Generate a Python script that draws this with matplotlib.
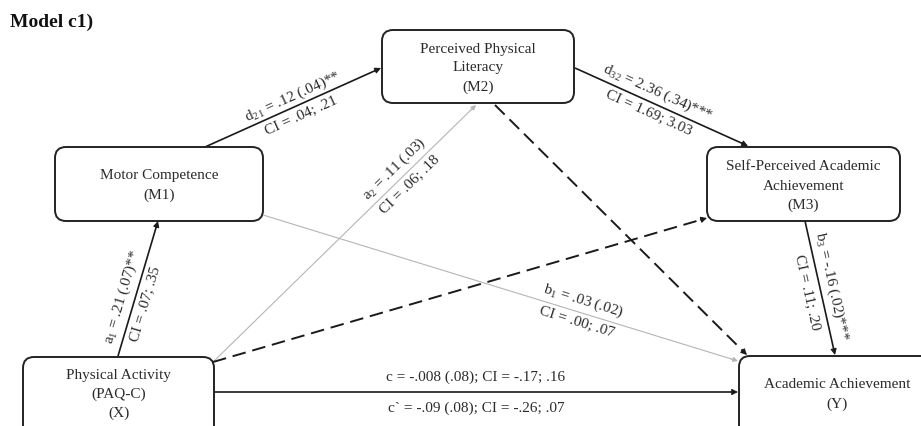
import numpy as np
import matplotlib
matplotlib.use("Agg")
import matplotlib.pyplot as plt
from matplotlib.patches import FancyBboxPatch

plt.rcParams['font.family'] = ['Liberation Serif', 'DejaVu Serif']
plt.rcParams['mathtext.fontset'] = 'custom'
plt.rcParams['mathtext.rm'] = 'Liberation Serif'
plt.rcParams['mathtext.it'] = 'Liberation Serif:italic'

TXT = '#2b2b2b'

# boxes: (x0, y0, x1, y1) in pixel space, text lines, first text line y
box_names = ['X', 'M1', 'M2', 'M3', 'Y']
box_rects = [(23, 357, 214, 445), (55, 147, 263, 221), (382, 30, 574, 103),
             (707, 147, 900, 221), (739, 356, 935, 445)]
box_lines = [['Physical Activity', '(PAQ-C)', '(X)'],
             ['Motor Competence', '(M1)'],
             ['Perceived Physical', 'Literacy', '(M2)'],
             ['Self-Perceived Academic', 'Achievement', '(M3)'],
             ['Academic Achievement', '(Y)']]
box_text_y = [375, 176, 49, 167, 385]

# paths: start, end, style, upper label, lower label, position along, offsets
path_start = [(118, 356), (205, 147), (213, 362), (575, 68), (805, 221),
              (263, 215), (213, 362), (495, 105), (214, 392)]
path_end = [(158, 221), (381, 68), (476, 105), (748, 146), (835, 355),
            (738, 361), (707, 218), (747, 355), (738, 392)]
path_style = ['solid', 'solid', 'grey', 'solid', 'solid', 'grey', 'dash', 'dash', 'solid']
label_top = [r'a$_{\mathrm{1}}$ = .21 (.07)**', r'd$_{\mathrm{21}}$ = .12 (.04)**',
             r'a$_{\mathrm{2}}$ = .11 (.03)', r'd$_{\mathrm{32}}$ = 2.36 (.34)***',
             r'b$_{\mathrm{3}}$ = -.16 (.02)***', r'b$_{\mathrm{1}}$ = .03 (.02)',
             '', '', 'c = -.008 (.08); CI = -.17; .16']
label_bot = ['CI = .07; .35', 'CI = .04; .21', 'CI = .06; .18', 'CI = 1.69; 3.03',
             'CI = .11; .20', 'CI = .00; .07', '', '', 'c` = -.09 (.08); CI = -.26; .07']
label_t = [0.41, 0.52, 0.72, 0.45, 0.51, 0.667, 0.5, 0.5, 0.5]
off_top = [12, 10, 11.5, 11.5, 12, 12.5, 0, 0, 15]
off_bot = [-12, -11, -11, -10.5, -14, -10, 0, 0, -16]

fig = plt.figure(figsize=(9.21, 4.26), dpi=100)
ax = fig.add_axes([0, 0, 1, 1])
ax.set_xlim(0, 921)
ax.set_ylim(426, 0)
ax.axis('off')

# title
ax.text(10, 22, 'Model c1)', fontsize=14, fontweight='bold', color='#111111',
        ha='left', va='center')

# boxes
for rect, lines, ty in zip(box_rects, box_lines, box_text_y):
    x0, y0, x1, y1 = rect
    ax.add_patch(FancyBboxPatch((x0, y0), x1 - x0, y1 - y0,
                                boxstyle='round,pad=0,rounding_size=11',
                                fc='white', ec='#222222', lw=1.4, zorder=3))
    cx = (x0 + x1) / 2
    for i, ln in enumerate(lines):
        ax.text(cx, ty + i * 19, ln, fontsize=11, color=TXT,
                ha='center', va='center', zorder=4)

# paths
for p0, p1, st, lt, lb, t, ot, ob in zip(path_start, path_end, path_style,
                                         label_top, label_bot, label_t, off_top, off_bot):
    p0 = np.array(p0, float)
    p1 = np.array(p1, float)
    d = p1 - p0
    u = d / np.hypot(*d)
    if st == 'grey':
        col, lw, ls = '#b5b5b5', 0.8, '-'
        head = 7
    elif st == 'dash':
        col, lw, ls = '#1a1a1a', 1.4, (0, (7, 3.5))
        head = 9
    else:
        col, lw, ls = '#1a1a1a', 1.2, '-'
        head = 9
    base = p1 - u * 6
    ax.plot([p0[0], base[0]], [p0[1], base[1]], color=col, lw=lw, ls=ls,
            solid_capstyle='butt', zorder=2)
    ax.annotate('', xy=p1, xytext=p1 - u * 7,
                arrowprops=dict(arrowstyle='-|>', color=col, lw=0.8,
                                mutation_scale=head, shrinkA=0, shrinkB=0),
                zorder=2)
    # label rotation (display frame: y up)
    ang = np.degrees(np.arctan2(-d[1], d[0]))
    if ang > 90:
        ang -= 180
    elif ang <= -90:
        ang += 180
    ud = np.array([np.cos(np.radians(ang)), np.sin(np.radians(ang))])
    nd = np.array([-ud[1], ud[0]])
    npx = np.array([nd[0], -nd[1]])
    mid = p0 + d * t
    if lt:
        pos = mid + npx * ot
        ax.text(pos[0], pos[1], lt, rotation=ang, rotation_mode='anchor',
                fontsize=11, color=TXT, ha='center', va='center')
    if lb:
        pos = mid + npx * ob
        ax.text(pos[0], pos[1], lb, rotation=ang, rotation_mode='anchor',
                fontsize=11, color=TXT, ha='center', va='center')

fig.savefig('out.png', dpi=100, facecolor='white')
